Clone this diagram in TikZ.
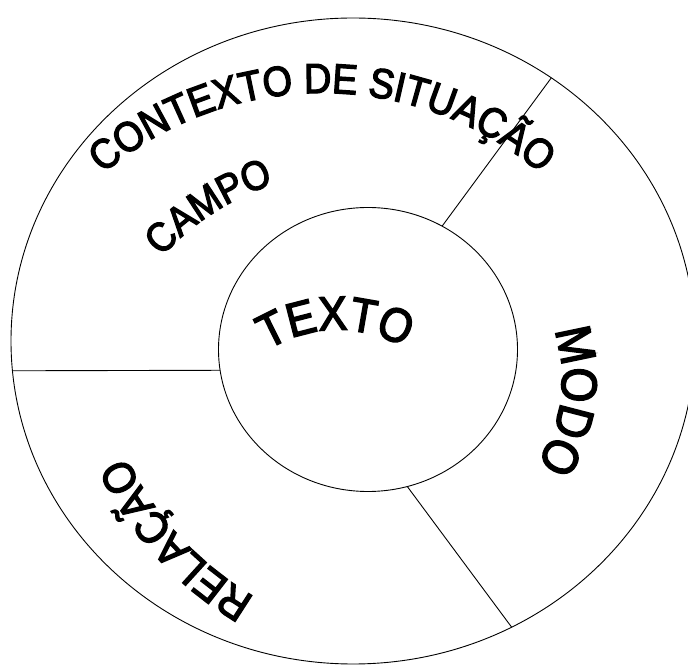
\documentclass[tikz,border=0pt]{standalone}
\usepackage{fontspec}
\newfontfamily\wafont[FakeBold=3,FakeStretch=0.9]{Liberation Sans}
\newcommand\wsz[1]{\wafont\fontsize{#1}{#1}\selectfont}
\usetikzlibrary{shapes.geometric,decorations.text}
\begin{document}
\begin{tikzpicture}[x=1pt,y=1pt,
  ring/.style={draw, ellipse, inner sep=0pt, outer sep=0pt, line width=0.9pt},
  divider/.style={line width=0.9pt},
  arctext/.style={decorate, decoration={text along path, text align=center, text={#1}}}
]
\useasboundingbox (0,0) rectangle (688,664);
\node[ring, minimum width=684, minimum height=646] (outer) at (353,323) {};
\node[ring, minimum width=299, minimum height=284] (inner) at (368,314.5) {};
\draw[divider] (outer.185) -- (inner.188.3);
\draw[divider] (outer.53.3) -- (inner.59.7);
\draw[divider] (outer.-61.2) -- (inner.-74.9);
\path[arctext={|\wsz{42}|CONTEXTO DE SITUAÇÃO}] (322,234) ++(140:337) arc[start angle=140, end angle=40, radius=337];
\path[arctext={|\wsz{41}|CAMPO}] (359,226) ++(150:268) arc[start angle=150, end angle=96, radius=268];
\path[arctext={|\wsz{48}|TEXTO}] (338,201) ++(137:133) arc[start angle=137, end angle=45, radius=133];
\path[arctext={|\wsz{50}|MODO}] (410,284.5) ++(35:152) arc[start angle=35, end angle=-50, radius=152];
\path[arctext={|\wsz{45}|RELAÇÃO}] (416,344) ++(250:320.5) arc[start angle=250, end angle=195, radius=320.5];
\end{tikzpicture}
\end{document}
